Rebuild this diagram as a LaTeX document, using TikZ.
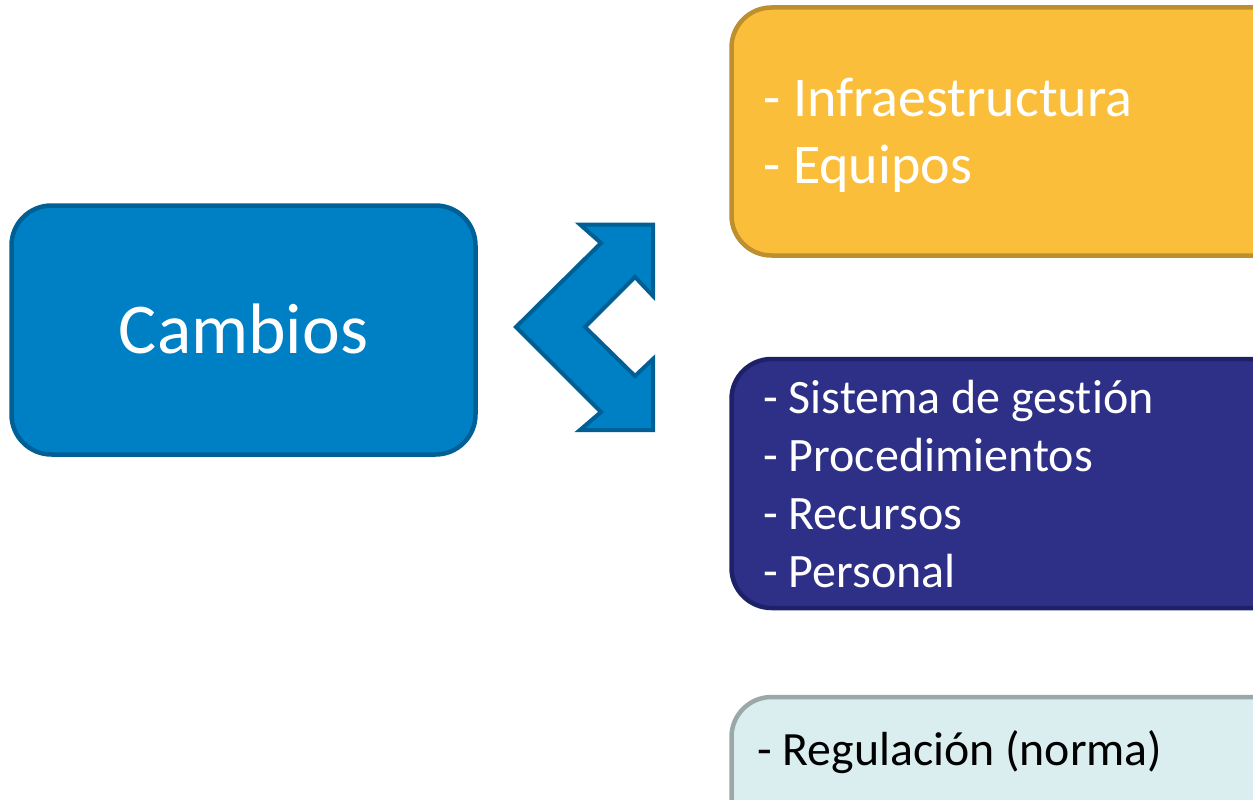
\documentclass[tikz,border=0pt]{standalone}
\usepackage{fontspec}
\setmainfont{Carlito}[Ligatures=NoCommon]
\definecolor{cblue}{HTML}{0080C4}
\definecolor{cbluedark}{HTML}{005F94}
\definecolor{cyellow}{HTML}{FBBE3A}
\definecolor{cyellowdark}{HTML}{BE8F2E}
\definecolor{cpurple}{HTML}{2E3087}
\definecolor{cpurpledark}{HTML}{1F2168}
\definecolor{clight}{HTML}{DAEDEF}
\definecolor{clightdark}{HTML}{9AA8A8}
\tikzset{
  box/.style={rounded corners=40pt, line width=4.5pt},
  boxtext/.style={anchor=base west, inner sep=0pt},
  yellowtext/.style={boxtext, text=white, font=\fontsize{56}{66}\selectfont},
  purpletext/.style={boxtext, text=white, font=\fontsize{48}{58}\selectfont},
}
\begin{document}
\begin{tikzpicture}[x=1pt,y=-1pt]
\useasboundingbox (0,0) rectangle (1253,800);
\clip (0,0) rectangle (1253,800);
% Cambios box
\draw[box, fill=cblue, draw=cbluedark] (11.5,205.5) rectangle (475.5,454.5);
\node[anchor=base, inner sep=0pt, text=white, font=\fontsize{71.5}{84}\selectfont] (cambios) at (243.5,353) {Cambios};
% double chevron arrow
\draw[fill=cblue, draw=cbluedark, line width=4pt, line join=miter]
  (580,224.5) -- (653,224.5) -- (653,296) -- (635,277) -- (585,327) -- (635,376)
  -- (653,359) -- (653,430) -- (580,430) -- (601,412) -- (516,327) -- (601,243) -- cycle;
% yellow box
\draw[box, fill=cyellow, draw=cyellowdark] (731.5,7.5) rectangle (1300,255.5);
\node[yellowtext] (infra) at (763,117) {- Infraestructura};
\node[yellowtext] (equipos) at (763,183) {- Equipos};
% purple box
\draw[box, fill=cpurple, draw=cpurpledark] (731.5,359) rectangle (1300,608);
\node[purpletext] (sistema) at (763,413) {- Sistema de gestión};
\node[purpletext] (proced) at (763,471) {- Procedimientos};
\node[purpletext] (recursos) at (763,529) {- Recursos};
\node[purpletext] (personal) at (763,587) {- Personal};
% light box
\draw[box, fill=clight, draw=clightdark] (731.5,697) rectangle (1300,850);
\node[boxtext, text=black, font=\fontsize{47.8}{58}\selectfont] (regul) at (757,765) {- Regulación (norma)};
\end{tikzpicture}
\end{document}
